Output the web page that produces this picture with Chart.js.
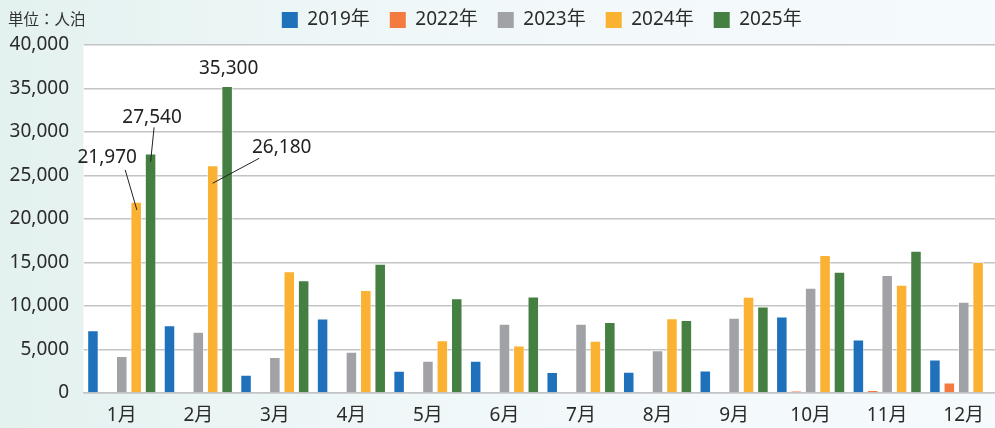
<!DOCTYPE html>
<html><head><meta charset="utf-8">
<script src="https://cdn.jsdelivr.net/npm/chart.js@4"></script>
<style>
html,body{margin:0;padding:0;}
#wrap{width:995px;height:428px;overflow:hidden;position:relative;
 background:linear-gradient(to right,#e3f1ef 0%,#edf6f6 30%,#f3f9fb 60%,#f5fafd 100%);}
canvas{display:block;}
</style></head>
<body><div id="wrap"><canvas id="c" width="1003" height="428"></canvas></div>
<script>
const months = ['1月','2月','3月','4月','5月','6月','7月','8月','9月','10月','11月','12月'];
const seriesNames = ['2019年','2022年','2023年','2024年','2025年'];
const v2019 = [7200,7800,2100,8550,2550,3700,2400,2450,2600,8800,6150,3850];
const v2022 = [0,0,0,0,0,0,0,0,0,250,350,1200];
const v2023 = [4250,7050,4150,4750,3700,7950,7950,4900,8650,12100,13550,10500];
const v2024 = [21970,26180,14000,11850,6050,5450,6000,8600,11050,15850,12450,15050];
const v2025 = [27540,35300,12950,14850,10900,11100,8150,8400,9950,13950,16350,null];
const yTickValues = [0,5000,10000,15000,20000,25000,30000,35000,40000];
const unitLabel = '単位：人泊';

const colors = ['#1f71bc','#f47a40','#a1a2a6','#fbb132','#457f41'];
const seriesData = [v2019,v2022,v2023,v2024,v2025];
const FONT = "'Noto Sans','Noto Sans CJK JP',sans-serif";

// which bars get a value callout: [datasetIndex, dataIndex] with label offset styling
const callouts = [
  {ds:3, i:0, tx:-29, ty:-44, line:[-11,-32,0.7,8]},
  {ds:4, i:0, tx:1.5, ty:-36, line:[3.5,-26,0,8.4]},
  {ds:4, i:1, tx:1.5, ty:-17, line:null},
  {ds:3, i:1, tx:69, ty:-18, line:[46.6,-7,0,18]}
];

const fmt = v => Number(v).toLocaleString('en-US');

const bgPlugin = {
  id:'bg',
  beforeDraw(chart){
    const {ctx, chartArea:a} = chart;
    ctx.save();
    ctx.fillStyle = '#ffffff';
    ctx.fillRect(a.left, a.top, a.right - a.left, a.bottom - a.top);
    ctx.fillStyle = '#333333';
    ctx.font = "15.5px 'Noto Sans CJK JP',sans-serif";
    ctx.textBaseline = 'middle';
    ctx.textAlign = 'left';
    ctx.fillText(unitLabel, 8, 19);
    ctx.restore();
  },
  afterLayout(chart){
    const lg = chart.legend, a = chart.chartArea;
    lg.left = a.left - 1; lg.right = a.right - 1;
    lg.top = -9.5;
  }
};

const calloutPlugin = {
  id:'callouts',
  afterDatasetsDraw(chart){
    const ctx = chart.ctx;
    ctx.save();
    ctx.font = '19px ' + FONT;
    ctx.fillStyle = '#222';
    ctx.strokeStyle = '#222';
    ctx.lineWidth = 1;
    ctx.textAlign = 'center';
    ctx.textBaseline = 'middle';
    callouts.forEach(c => {
      const el = chart.getDatasetMeta(c.ds).data[c.i];
      const v = chart.data.datasets[c.ds].data[c.i];
      ctx.fillText(fmt(v), el.x + c.tx, el.y + c.ty);
      if (c.line) {
        ctx.beginPath();
        ctx.moveTo(el.x + c.line[0], el.y + c.line[1]);
        ctx.lineTo(el.x + c.line[2], el.y + c.line[3]);
        ctx.stroke();
      }
    });
    ctx.restore();
  }
};

new Chart(document.getElementById('c'), {
  type:'bar',
  data:{
    labels: months,
    datasets: seriesNames.map((n,k)=>({
      label:n, data:seriesData[k], backgroundColor:colors[k],
      borderColor:'rgba(255,255,255,0.55)', borderWidth:1,
      categoryPercentage:0.941, barPercentage:0.8
    }))
  },
  options:{
    responsive:false, animation:false,
    layout:{padding:{top:-4,left:0,right:1,bottom:0}},
    plugins:{
      legend:{
        position:'top',
        labels:{
          font:{family:FONT,size:19}, color:'#2b2b2b',
          boxWidth:16, boxHeight:16, padding:20,
          generateLabels(chart){
            return Chart.defaults.plugins.legend.labels.generateLabels(chart)
              .map(l=>({...l, lineWidth:0, strokeStyle:'rgba(0,0,0,0)'}));
          }
        }
      },
      tooltip:{enabled:false}
    },
    scales:{
      x:{
        grid:{display:false, drawTicks:false},
        border:{display:true, color:'#c3c4c6', width:1.5},
        ticks:{font:{family:FONT,size:19}, color:'#2b2b2b', padding:11},
        afterFit(s){ s.height = 35; }
      },
      y:{
        min:0, max:40000,
        afterBuildTicks(s){ s.ticks = yTickValues.map(v=>({value:v})); },
        grid:{color:'#c3c4c6', lineWidth:1.5, drawTicks:false},
        border:{display:false},
        ticks:{font:{family:FONT,size:19}, color:'#2b2b2b', padding:14.5,
          callback:v=>fmt(v)},
        afterFit(s){ s.width = 83.5; }
      }
    }
  },
  plugins:[bgPlugin, calloutPlugin]
});
</script></body></html>
